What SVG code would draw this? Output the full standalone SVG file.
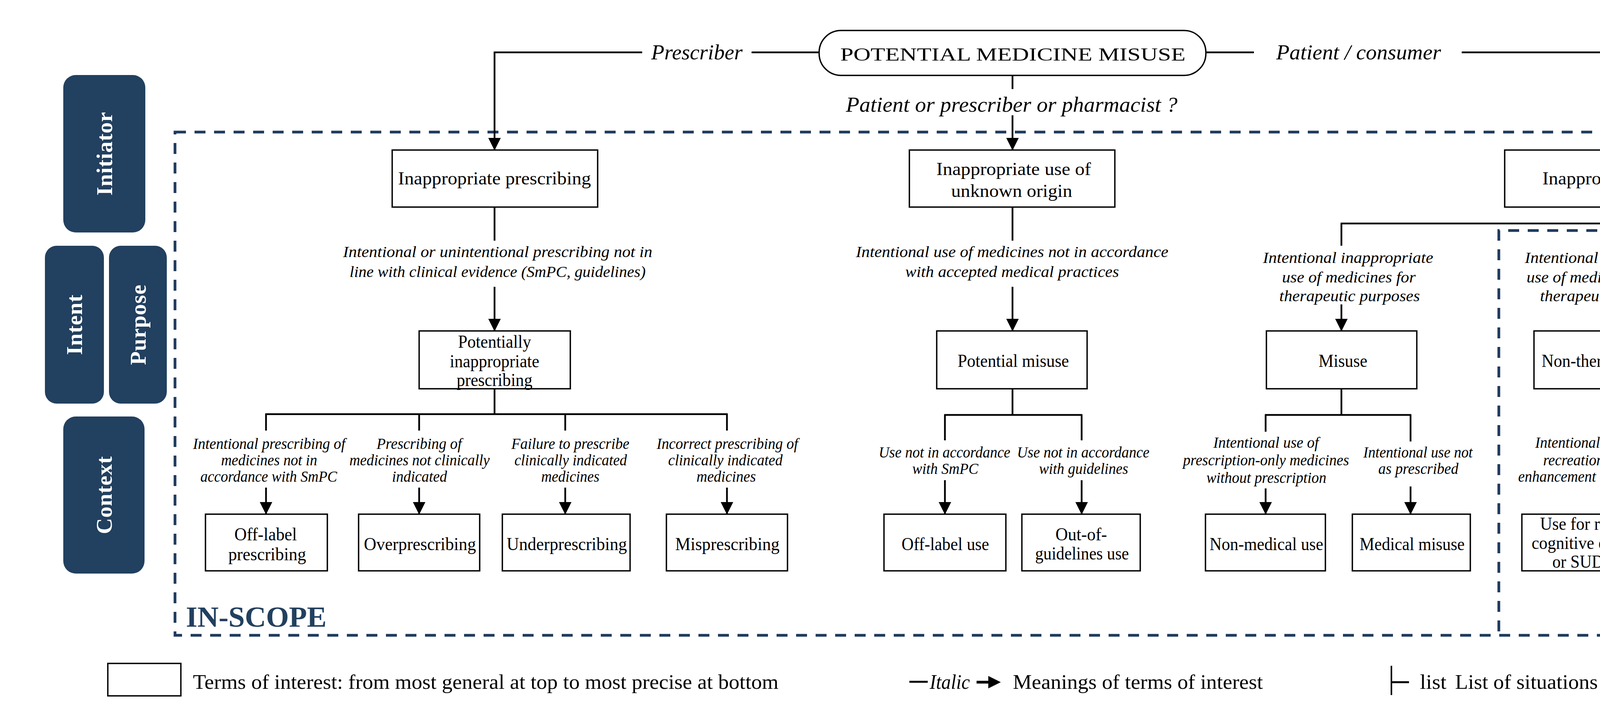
<svg xmlns="http://www.w3.org/2000/svg" width="5157" height="1830" viewBox="0 0 5157 1830">
<defs>
<marker id="ah" markerUnits="userSpaceOnUse" markerWidth="32" markerHeight="32" viewBox="0 0 32 32" refX="31" refY="16" orient="auto">
<path d="M0,0 L32,16 L0,32 z" fill="#000"/>
</marker>
<style>
.box{fill:#fff;stroke:#000;stroke-width:3.5}
.nt{font-family:"Liberation Serif",serif;font-size:46px;text-anchor:middle;fill:#000}
.lbl{font-family:"Liberation Serif",serif;font-style:italic;font-size:40px;text-anchor:middle;fill:#000}
.top{font-family:"Liberation Serif",serif;font-style:italic;font-size:54px;fill:#000}
.con{fill:none;stroke:#000;stroke-width:4.5}
.arr{marker-end:url(#ah)}
.dash{fill:none;stroke:#1f3a5c;stroke-width:7;stroke-dasharray:28 22}
.side{fill:#22405f}
.sidet{font-family:"Liberation Serif",serif;font-weight:bold;font-size:57px;fill:#fff;text-anchor:middle;dominant-baseline:central;letter-spacing:1px}
.scope{font-family:"Liberation Serif",serif;font-weight:bold;font-size:74px;fill:#22405f}
.leg{font-family:"Liberation Serif",serif;font-size:53px;fill:#000}
</style>
</defs>
<rect width="5157" height="1830" fill="#fff"/>

<g id="scopes">
<rect class="dash" x="448" y="338" width="4565" height="1288"/>
<path class="dash" d="M4387,338 V590 H3837 V1626"/>
<text class="scope" x="476" y="1604" textLength="360" lengthAdjust="spacingAndGlyphs">IN-SCOPE</text>
<text class="scope" x="4978" y="1604" text-anchor="end" textLength="564" lengthAdjust="spacingAndGlyphs">OUT-OF-SCOPE</text>
</g>

<g id="tab-initiator"><rect class="side" x="162" y="192" width="210" height="403" rx="32"/><text class="sidet" transform="translate(267,393) rotate(-90)">Initiator</text></g>
<g id="tab-intent"><rect class="side" x="115" y="629" width="151" height="404" rx="30"/><text class="sidet" transform="translate(190,831) rotate(-90)">Intent</text></g>
<g id="tab-purpose"><rect class="side" x="279" y="629" width="148" height="404" rx="30"/><text class="sidet" transform="translate(353,831) rotate(-90)">Purpose</text></g>
<g id="tab-context"><rect class="side" x="162" y="1066" width="208" height="402" rx="32"/><text class="sidet" transform="translate(266,1267) rotate(-90)">Context</text></g>

<g id="connectors">
<line class="con" x1="1924" y1="134" x2="2097" y2="134"/>
<path class="con arr" d="M1644,134 H1266 V384"/>
<line class="con" x1="3087" y1="134" x2="3210" y2="134"/>
<path class="con arr" d="M3742,134 H4116 V384"/>
<line class="con" x1="2592" y1="194" x2="2592" y2="228"/>
<line class="con arr" x1="2592" y1="295" x2="2592" y2="384"/>
<text class="top" x="1667" y="152" textLength="234" lengthAdjust="spacingAndGlyphs">Prescriber</text>
<text class="top" x="3267" y="152" textLength="422" lengthAdjust="spacingAndGlyphs">Patient / consumer</text>
<text class="top" x="2590" y="286" text-anchor="middle" textLength="849" lengthAdjust="spacingAndGlyphs">Patient or prescriber or pharmacist ?</text>

<line class="con" x1="1266" y1="530" x2="1266" y2="616"/>
<text class="lbl" x="1274" y="658" textLength="792" lengthAdjust="spacingAndGlyphs">Intentional or unintentional prescribing not in</text>
<text class="lbl" x="1274" y="709" textLength="758" lengthAdjust="spacingAndGlyphs">line with clinical evidence (SmPC, guidelines)</text>
<line class="con arr" x1="1266" y1="734" x2="1266" y2="847"/>
<line class="con" x1="1266" y1="995" x2="1266" y2="1060"/>
<line class="con" x1="679" y1="1060" x2="1863" y2="1060"/>
<line class="con" x1="681" y1="1060" x2="681" y2="1102"/>
<line class="con" x1="1073" y1="1060" x2="1073" y2="1102"/>
<line class="con" x1="1447" y1="1060" x2="1447" y2="1102"/>
<line class="con" x1="1861" y1="1060" x2="1861" y2="1102"/>
<text class="lbl" x="689" y="1149" textLength="390" lengthAdjust="spacingAndGlyphs">Intentional prescribing of</text>
<text class="lbl" x="689" y="1191" textLength="246" lengthAdjust="spacingAndGlyphs">medicines not in</text>
<text class="lbl" x="688" y="1233" textLength="350" lengthAdjust="spacingAndGlyphs">accordance with SmPC</text>
<text class="lbl" x="1073" y="1149" textLength="218" lengthAdjust="spacingAndGlyphs">Prescribing of</text>
<text class="lbl" x="1074" y="1191" textLength="359" lengthAdjust="spacingAndGlyphs">medicines not clinically</text>
<text class="lbl" x="1074" y="1233" textLength="141" lengthAdjust="spacingAndGlyphs">indicated</text>
<text class="lbl" x="1460" y="1149" textLength="302" lengthAdjust="spacingAndGlyphs">Failure to prescribe</text>
<text class="lbl" x="1461" y="1191" textLength="288" lengthAdjust="spacingAndGlyphs">clinically indicated</text>
<text class="lbl" x="1460" y="1233" textLength="149" lengthAdjust="spacingAndGlyphs">medicines</text>
<text class="lbl" x="1862" y="1149" textLength="362" lengthAdjust="spacingAndGlyphs">Incorrect prescribing of</text>
<text class="lbl" x="1857" y="1191" textLength="293" lengthAdjust="spacingAndGlyphs">clinically indicated</text>
<text class="lbl" x="1859" y="1233" textLength="152" lengthAdjust="spacingAndGlyphs">medicines</text>
<line class="con arr" x1="681" y1="1248" x2="681" y2="1316"/>
<line class="con arr" x1="1073" y1="1248" x2="1073" y2="1316"/>
<line class="con arr" x1="1447" y1="1248" x2="1447" y2="1316"/>
<line class="con arr" x1="1861" y1="1248" x2="1861" y2="1316"/>

<line class="con" x1="2592" y1="530" x2="2592" y2="616"/>
<text class="lbl" x="2591" y="658" textLength="800" lengthAdjust="spacingAndGlyphs">Intentional use of medicines not in accordance</text>
<text class="lbl" x="2591" y="709" textLength="547" lengthAdjust="spacingAndGlyphs">with accepted medical practices</text>
<line class="con arr" x1="2592" y1="734" x2="2592" y2="847"/>
<line class="con" x1="2592" y1="995" x2="2592" y2="1062"/>
<line class="con" x1="2417" y1="1062" x2="2771" y2="1062"/>
<line class="con" x1="2419" y1="1062" x2="2419" y2="1127"/>
<line class="con" x1="2769" y1="1062" x2="2769" y2="1127"/>
<text class="lbl" x="2418" y="1171" textLength="337" lengthAdjust="spacingAndGlyphs">Use not in accordance</text>
<text class="lbl" x="2420" y="1213" textLength="169" lengthAdjust="spacingAndGlyphs">with SmPC</text>
<text class="lbl" x="2773" y="1171" textLength="339" lengthAdjust="spacingAndGlyphs">Use not in accordance</text>
<text class="lbl" x="2774" y="1213" textLength="228" lengthAdjust="spacingAndGlyphs">with guidelines</text>
<line class="con arr" x1="2419" y1="1229" x2="2419" y2="1316"/>
<line class="con arr" x1="2769" y1="1229" x2="2769" y2="1316"/>

<line class="con" x1="4116" y1="530" x2="4116" y2="572"/>
<line class="con" x1="3432" y1="572" x2="4735" y2="572"/>
<line class="con" x1="3434" y1="572" x2="3434" y2="629"/>
<line class="con" x1="4116" y1="572" x2="4116" y2="634"/>
<line class="con" x1="4733" y1="572" x2="4733" y2="634"/>
<text class="lbl" x="3451" y="673" textLength="436" lengthAdjust="spacingAndGlyphs">Intentional inappropriate</text>
<text class="lbl" x="3453" y="723" textLength="342" lengthAdjust="spacingAndGlyphs">use of medicines for</text>
<text class="lbl" x="3455" y="771" textLength="360" lengthAdjust="spacingAndGlyphs">therapeutic purposes</text>
<text class="lbl" x="4121" y="673" textLength="435" lengthAdjust="spacingAndGlyphs">Intentional inappropriate</text>
<text class="lbl" x="4122" y="723" textLength="428" lengthAdjust="spacingAndGlyphs">use of medicines for non-</text>
<text class="lbl" x="4122" y="771" textLength="359" lengthAdjust="spacingAndGlyphs">therapeutic purposes</text>
<text class="lbl" x="4738" y="673" textLength="238" lengthAdjust="spacingAndGlyphs">Unintentional</text>
<text class="lbl" x="4739" y="723" textLength="348" lengthAdjust="spacingAndGlyphs">inappropriate use of</text>
<text class="lbl" x="4736" y="771" textLength="174" lengthAdjust="spacingAndGlyphs">medicines</text>
<line class="con arr" x1="3434" y1="779" x2="3434" y2="847"/>
<line class="con arr" x1="4116" y1="779" x2="4116" y2="847"/>
<line class="con arr" x1="4733" y1="779" x2="4733" y2="847"/>

<line class="con" x1="3434" y1="995" x2="3434" y2="1062"/>
<line class="con" x1="3238" y1="1062" x2="3613" y2="1062"/>
<line class="con" x1="3240" y1="1062" x2="3240" y2="1105"/>
<line class="con" x1="3611" y1="1062" x2="3611" y2="1130"/>
<text class="lbl" x="3241" y="1146" textLength="270" lengthAdjust="spacingAndGlyphs">Intentional use of</text>
<text class="lbl" x="3241" y="1191" textLength="425" lengthAdjust="spacingAndGlyphs">prescription-only medicines</text>
<text class="lbl" x="3242" y="1236" textLength="307" lengthAdjust="spacingAndGlyphs">without prescription</text>
<text class="lbl" x="3630" y="1171" textLength="280" lengthAdjust="spacingAndGlyphs">Intentional use not</text>
<text class="lbl" x="3631" y="1213" textLength="205" lengthAdjust="spacingAndGlyphs">as prescribed</text>
<line class="con arr" x1="3240" y1="1250" x2="3240" y2="1316"/>
<line class="con arr" x1="3611" y1="1245" x2="3611" y2="1316"/>

<line class="con" x1="4116" y1="995" x2="4116" y2="1100"/>
<text class="lbl" x="4120" y="1146" textLength="380" lengthAdjust="spacingAndGlyphs">Intentional use related to</text>
<text class="lbl" x="4122" y="1191" textLength="343" lengthAdjust="spacingAndGlyphs">recreational, cognitive</text>
<text class="lbl" x="4122" y="1233" textLength="471" lengthAdjust="spacingAndGlyphs">enhancement or SUD purposes</text>
<line class="con arr" x1="4116" y1="1247" x2="4116" y2="1316"/>

<line class="con" x1="4733" y1="995" x2="4733" y2="1113"/>
<text class="lbl" x="4750" y="1169" textLength="426" lengthAdjust="spacingAndGlyphs">Unintentional use outside of</text>
<text class="lbl" x="4749" y="1211" textLength="368" lengthAdjust="spacingAndGlyphs">prescription parameters</text>
<line class="con arr" x1="4733" y1="1234" x2="4733" y2="1316"/>
</g>

<g id="n-root"><rect class="box" x="2097" y="78" width="990" height="115" rx="56"/><text class="nt" x="2593" y="155" font-size="58" textLength="884" lengthAdjust="spacingAndGlyphs">POTENTIAL MEDICINE MISUSE</text></g>

<g id="n-inapp-presc"><rect class="box" x="1004" y="384" width="526" height="146"/><text class="nt" x="1266" y="472" textLength="494" lengthAdjust="spacingAndGlyphs">Inappropriate prescribing</text></g>
<g id="n-inapp-unknown"><rect class="box" x="2328" y="384" width="526" height="146"/><text class="nt" x="2595" y="448" textLength="396" lengthAdjust="spacingAndGlyphs">Inappropriate use of</text><text class="nt" x="2590" y="504" textLength="310" lengthAdjust="spacingAndGlyphs">unknown origin</text></g>
<g id="n-inapp-use"><rect class="box" x="3852" y="384" width="526" height="146"/><text class="nt" x="4117" y="472" textLength="337" lengthAdjust="spacingAndGlyphs">Inappropriate use</text></g>

<g id="n-pot-inapp-presc"><rect class="box" x="1073" y="847" width="387" height="148"/><text class="nt" x="1266" y="890" textLength="187" lengthAdjust="spacingAndGlyphs">Potentially</text><text class="nt" x="1266" y="940" textLength="229" lengthAdjust="spacingAndGlyphs">inappropriate</text><text class="nt" x="1266" y="988" textLength="194" lengthAdjust="spacingAndGlyphs">prescribing</text></g>
<g id="n-pot-misuse"><rect class="box" x="2398" y="847" width="385" height="148"/><text class="nt" x="2594" y="939" textLength="285" lengthAdjust="spacingAndGlyphs">Potential misuse</text></g>
<g id="n-misuse"><rect class="box" x="3242" y="847" width="385" height="148"/><text class="nt" x="3438" y="939" textLength="125" lengthAdjust="spacingAndGlyphs">Misuse</text></g>
<g id="n-nontherapeutic"><rect class="box" x="3927" y="847" width="384" height="148"/><text class="nt" x="4120" y="939" textLength="347" lengthAdjust="spacingAndGlyphs">Non-therapeutic use</text></g>
<g id="n-med-errors"><rect class="box" x="4541" y="847" width="385" height="148"/><text class="nt" x="4734" y="916" textLength="264" lengthAdjust="spacingAndGlyphs">Medication use</text><text class="nt" x="4735" y="964" textLength="101" lengthAdjust="spacingAndGlyphs">errors</text></g>

<g id="n-offlabel-presc"><rect class="box" x="526" y="1316" width="312" height="145"/><text class="nt" x="680" y="1383" textLength="160" lengthAdjust="spacingAndGlyphs">Off-label</text><text class="nt" x="684" y="1434" textLength="199" lengthAdjust="spacingAndGlyphs">prescribing</text></g>
<g id="n-overpresc"><rect class="box" x="918" y="1316" width="310" height="145"/><text class="nt" x="1075" y="1408" textLength="287" lengthAdjust="spacingAndGlyphs">Overprescribing</text></g>
<g id="n-underpresc"><rect class="box" x="1286" y="1316" width="327" height="145"/><text class="nt" x="1451" y="1408" textLength="308" lengthAdjust="spacingAndGlyphs">Underprescribing</text></g>
<g id="n-mispresc"><rect class="box" x="1706" y="1316" width="310" height="145"/><text class="nt" x="1862" y="1408" textLength="267" lengthAdjust="spacingAndGlyphs">Misprescribing</text></g>
<g id="n-offlabel-use"><rect class="box" x="2263" y="1316" width="312" height="145"/><text class="nt" x="2420" y="1408" textLength="224" lengthAdjust="spacingAndGlyphs">Off-label use</text></g>
<g id="n-out-guidelines"><rect class="box" x="2616" y="1316" width="303" height="145"/><text class="nt" x="2768" y="1383" textLength="132" lengthAdjust="spacingAndGlyphs">Out-of-</text><text class="nt" x="2770" y="1432" textLength="240" lengthAdjust="spacingAndGlyphs">guidelines use</text></g>
<g id="n-nonmedical"><rect class="box" x="3086" y="1316" width="307" height="145"/><text class="nt" x="3242" y="1408" textLength="291" lengthAdjust="spacingAndGlyphs">Non-medical use</text></g>
<g id="n-medical-misuse"><rect class="box" x="3462" y="1316" width="302" height="145"/><text class="nt" x="3615" y="1408" textLength="269" lengthAdjust="spacingAndGlyphs">Medical misuse</text></g>
<g id="n-recreational"><rect class="box" x="3896" y="1316" width="445" height="145"/><text class="nt" x="4119" y="1356" textLength="353" lengthAdjust="spacingAndGlyphs">Use for recreational,</text><text class="nt" x="4120" y="1405" textLength="398" lengthAdjust="spacingAndGlyphs">cognitive enhancement</text><text class="nt" x="4121" y="1453" textLength="294" lengthAdjust="spacingAndGlyphs">or SUD purposes</text></g>
<g id="n-incorrect-intake"><rect class="box" x="4582" y="1316" width="303" height="145"/><text class="nt" x="4737" y="1408" textLength="265" lengthAdjust="spacingAndGlyphs">Incorrect intake</text></g>

<g id="legend">
<rect class="box" x="276" y="1698" width="187" height="83"/>
<text class="leg" x="494" y="1763" textLength="1499" lengthAdjust="spacingAndGlyphs">Terms of interest: from most general at top to most precise at bottom</text>
<line x1="2328" y1="1745" x2="2375" y2="1745" stroke="#000" stroke-width="5"/>
<text class="leg" x="2380" y="1763" font-style="italic" textLength="103" lengthAdjust="spacingAndGlyphs">Italic</text>
<line x1="2500" y1="1746" x2="2535" y2="1746" stroke="#000" stroke-width="7"/>
<path d="M2530,1730 L2562,1746 L2530,1762 z" fill="#000"/>
<text class="leg" x="2593" y="1763" textLength="640" lengthAdjust="spacingAndGlyphs">Meanings of terms of interest</text>
<line x1="3562" y1="1704" x2="3562" y2="1779" stroke="#000" stroke-width="4"/>
<line x1="3562" y1="1746" x2="3607" y2="1746" stroke="#000" stroke-width="5"/>
<text class="leg" x="3635" y="1763" textLength="68" lengthAdjust="spacingAndGlyphs">list</text>
<text class="leg" x="3725" y="1763" textLength="1070" lengthAdjust="spacingAndGlyphs">List of situations associated with the above terms</text>
</g>
</svg>
